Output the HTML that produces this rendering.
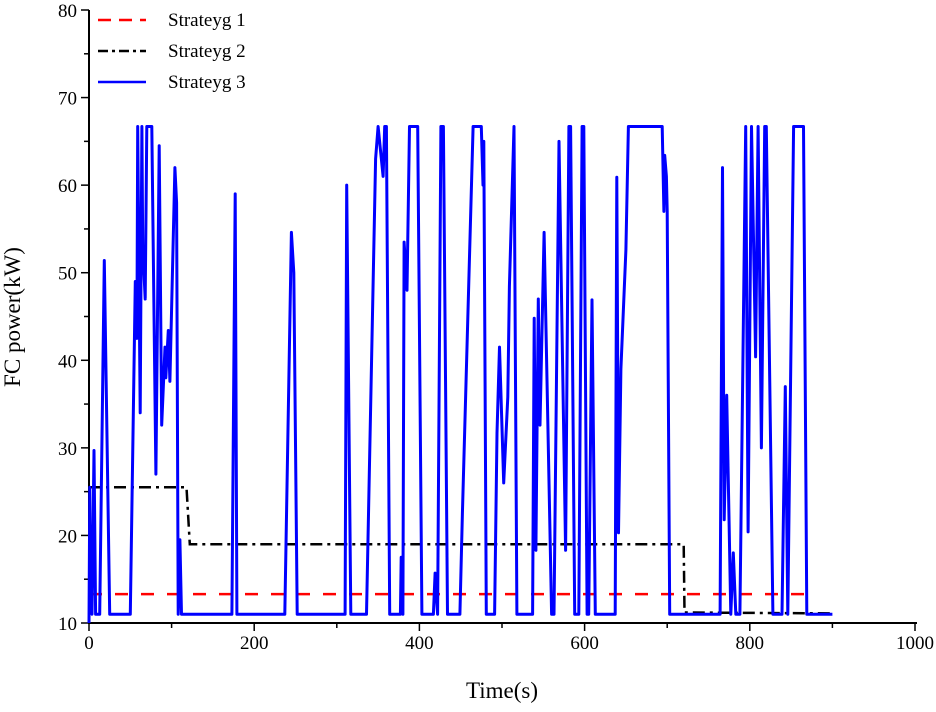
<!DOCTYPE html>
<html><head><meta charset="utf-8"><style>
body{margin:0;background:#fff}
svg text{font-family:"Liberation Serif",serif;fill:#000}
</style></head><body>
<svg id="chart" width="936" height="707" viewBox="0 0 936 707"></svg>
<script>
const xTicks=[0,200,400,600,800,1000];
const yTicks=[10,20,30,40,50,60,70,80];
const s1Times=[0,875];
const s1Values=[13.3,13.3];
const s2Times=[0,118,122,720,721,900];
const s2Values=[25.5,25.5,19,19,11.2,11.1];
const s3Times=[0,1,2,3.6,6,8,10,13,18.5,25,50,56,58,59,62,64,65,68,70,76,81,85,88,92,93,96,98,104,106,108,110,112,173,177,179,237,245,248,252,310,312,317,336,347,350,356,358,360,364,377,378,380,381.5,385,388,398,403,417,419,422,426,429,434,449,452,465,475,477,478,481,491,494,497,502,507,509,514.5,518,537,539,541,544,546,551,560,563,569,577,581,583,588,593,597,599,603,605,609,613,637,639,641,644,650,653,694,696,697,699,700,703,764,767,769,772,777,780,783,788,795,798,802,807,810,814,818,820,828,839,843,846,853,865,869,900];
const s3Values=[10,25.5,11.5,11,29.7,11,11,11,51.4,11,11,49,42.5,66.7,34,66.7,53,47,66.7,66.7,27,64.5,32.6,41.5,38,43.4,37.6,62,58,11,19.5,11,11,59,11,11,54.6,50,11,11,60,11,11,63,66.7,61,66.7,66.7,11,11,17.5,11,53.5,48,66.7,66.7,11,11,15.7,11,66.7,66.7,11,11,22.5,66.7,66.7,60,65,11,11,31.7,41.5,26,35.8,48.4,66.7,11,11,44.8,18.3,47,32.6,54.6,11,11,65,18.3,66.7,66.7,11,11,66.7,66.7,11,11,46.9,11,11,60.9,20.3,39,52.6,66.7,66.7,57,63.4,61,57,11,11,62,21.8,36,11,18,11,11,66.7,20.4,66.7,40.4,66.7,30,66.7,66.7,11,11,37,11,66.7,66.7,11,11];
const X0=89,X1=915,Y0=623,Y1=10;
const sx=t=>X0+(t-0)/1000*(X1-X0);
const sy=v=>Y0-(v-10)/70*(Y0-Y1);
const svg=document.getElementById('chart');
const NS='http://www.w3.org/2000/svg';
function mk(tag,attrs,parent){const e=document.createElementNS(NS,tag);for(const k in attrs)e.setAttribute(k,attrs[k]);(parent||svg).appendChild(e);return e;}
let ax=mk('line',{x1:X0,y1:Y0,x2:X1+2,y2:Y0,stroke:'#000','stroke-width':2});


let ay=mk('line',{x1:X0,y1:Y0+1,x2:X0,y2:Y1,stroke:'#000','stroke-width':2});


for(let t=0;t<=1000;t+=100){const major=t%200===0;
 let tk=mk('line',{x1:sx(t),y1:Y0,x2:sx(t),y2:Y0+(major?8:5),stroke:'#000','stroke-width':1.5});
 
 }
xTicks.forEach(t=>{let e=mk('text',{x:sx(t),y:Y0+26,'text-anchor':'middle','font-size':19});e.textContent=t;
 
 });
for(let v=10;v<=80;v+=5){const major=v%10===0;
 let tk=mk('line',{x1:X0,y1:sy(v),x2:X0-(major?8:5),y2:sy(v),stroke:'#000','stroke-width':1.5});
 
 }
yTicks.forEach(v=>{let e=mk('text',{x:X0-12,y:sy(v)+7,'text-anchor':'end','font-size':19});e.textContent=v;
 
 });
let xt=mk('text',{x:502,y:698,'text-anchor':'middle','font-size':23});xt.textContent='Time(s)';


let yt=mk('text',{x:0,y:0,'text-anchor':'middle','font-size':23,transform:'translate(20,317) rotate(-90)'});yt.textContent='FC power(kW)';


function pts(T,V){return T.map((t,i)=>sx(t).toFixed(1)+','+sy(V[i]).toFixed(1)).join(' ');}
let l1=mk('polyline',{points:pts(s1Times,s1Values),fill:'none',stroke:'#f00','stroke-width':2.5,'stroke-dasharray':'13,13'});


let l2=mk('polyline',{points:pts(s2Times,s2Values),fill:'none',stroke:'#000','stroke-width':2.5,'stroke-dasharray':'12,5,3,5'});


let l3=mk('polyline',{points:pts(s3Times,s3Values),fill:'none',stroke:'#0000ff','stroke-width':3,'stroke-linejoin':'round'});


const leg=[['Strateyg 1','#f00','13,8'],['Strateyg 2','#000','10,4,3,4'],['Strateyg 3','#0000ff','']];
leg.forEach((d,i)=>{const y=20+i*31;
 let ln=mk('line',{x1:98,y1:y,x2:146,y2:y,stroke:d[1],'stroke-width':2.5,'stroke-dasharray':d[2]});
 
 
 let tx=mk('text',{x:168,y:y+6,'font-size':19});tx.textContent=d[0];
 
 });
</script>
</body></html>
